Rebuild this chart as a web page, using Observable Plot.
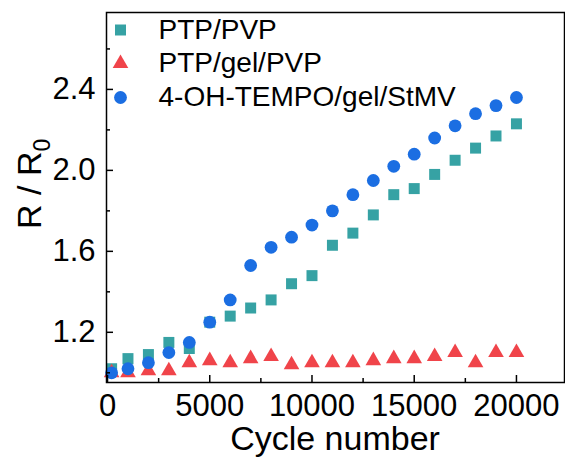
<!DOCTYPE html>
<html>
<head>
<meta charset="utf-8">
<script src="https://cdn.jsdelivr.net/npm/d3@7"></script>
<script src="https://cdn.jsdelivr.net/npm/@observablehq/plot@0.6"></script>
<style>
  html, body { margin: 0; padding: 0; background: #fff; }
  #chart { width: 565px; height: 457px; }
</style>
</head>
<body>
<div id="chart"></div>
<script>
const cycles = [200, 1000, 2000, 3000, 4000, 5000, 6000, 7000, 8000, 9000, 10000,
                11000, 12000, 13000, 14000, 15000, 16000, 17000, 18000, 19000, 20000];
const ptpPvp = [1.02, 1.07, 1.09, 1.15, 1.12, 1.25, 1.28, 1.32, 1.36, 1.44, 1.48,
                1.63, 1.69, 1.78, 1.88, 1.91, 1.98, 2.05, 2.11, 2.17, 2.23];
const ptpGelPvp = [1.00, 1.00, 1.01, 1.01, 1.05, 1.06, 1.05, 1.07, 1.08, 1.04, 1.05,
                   1.05, 1.05, 1.06, 1.07, 1.07, 1.08, 1.10, 1.05, 1.10, 1.10];
const tempo = [1.00, 1.02, 1.05, 1.10, 1.15, 1.25, 1.36, 1.53, 1.62, 1.67, 1.73,
               1.80, 1.88, 1.95, 2.02, 2.08, 2.16, 2.22, 2.28, 2.32, 2.36];

const seriesNames = ["PTP/PVP", "PTP/gel/PVP", "4-OH-TEMPO/gel/StMV"];
const seriesColors = ["#36A2A4", "#F0444A", "#1B6EE2"];
const seriesSymbols = ["square", "triangle", "circle"];
const seriesValues = [ptpPvp, ptpGelPvp, tempo];
const seriesR = [6.2, 5.8, 6.4];

const xMajor = [0, 5000, 10000, 15000, 20000];
const xMinor = [2500, 7500, 12500, 17500];
const yMajor = [1.2, 1.6, 2.0, 2.4];
const yMinor = [1.0, 1.4, 1.8, 2.2, 2.6];

const xLabel = "Cycle number";

const FONT = "'Liberation Sans', Arial, Helvetica, sans-serif";

const rows = [];
seriesNames.forEach((name, s) => {
  cycles.forEach((c, i) => rows.push({series: name, cycle: c, value: seriesValues[s][i], s}));
});

const legendRowY = [17.5, 51, 85];

const marks = [];
// data
seriesNames.forEach((name, s) => {
  marks.push(Plot.dot(rows.filter(d => d.s === s), {
    x: "cycle", y: "value", symbol: () => seriesSymbols[s],
    fill: seriesColors[s], r: seriesR[s], stroke: "none"
  }));
});
// legend
seriesNames.forEach((name, s) => {
  marks.push(Plot.dot([name], {
    frameAnchor: "top-left", dx: 14, dy: legendRowY[s],
    symbol: () => seriesSymbols[s], fill: seriesColors[s], r: seriesR[s]
  }));
  marks.push(Plot.text([name], {
    frameAnchor: "top-left", dx: 52, dy: legendRowY[s], text: d => d,
    textAnchor: "start", lineAnchor: "middle", fontSize: 28, fill: "#000"
  }));
});
// axes
marks.push(
  Plot.axisX(xMajor, {anchor: "bottom", tickSize: -7, strokeWidth: 1.5, tickFormat: () => "", label: null}),
  Plot.axisX(xMinor, {anchor: "bottom", tickSize: -4, strokeWidth: 1.5, tickFormat: () => "", label: null}),
  Plot.axisX(xMajor, {anchor: "bottom", tickSize: 0, tickPadding: 11, fontSize: 31, tickFormat: d3.format("d"), label: null}),
  Plot.axisY(yMajor, {anchor: "left", tickSize: -7, strokeWidth: 1.5, tickFormat: () => "", label: null}),
  Plot.axisY(yMinor, {anchor: "left", tickSize: -4, strokeWidth: 1.5, tickFormat: () => "", label: null}),
  Plot.axisY(yMajor, {anchor: "left", tickSize: 0, tickPadding: 11, fontSize: 31, tickFormat: d3.format(".1f"), label: null}),
  Plot.frame({stroke: "#000", strokeWidth: 1.5})
);

const svgPlot = Plot.plot({
  width: 565,
  height: 457,
  marginLeft: 106,
  marginRight: 1,
  marginTop: 12,
  marginBottom: 75,
  style: {fontFamily: FONT, color: "#000", background: "#fff", overflow: "visible"},
  x: {domain: [-50, 22350], label: null},
  y: {domain: [0.952, 2.78], label: null},
  marks
});

const svg = d3.select(svgPlot);
svg.append("text")
  .attr("x", 335).attr("y", 450)
  .attr("text-anchor", "middle")
  .attr("font-size", 34)
  .attr("font-family", FONT)
  .attr("fill", "#000")
  .text(xLabel);

const yl = svg.append("text")
  .attr("transform", "translate(41,229) rotate(-90)")
  .attr("text-anchor", "start")
  .attr("font-size", 34)
  .attr("font-family", FONT)
  .attr("fill", "#000");
yl.append("tspan").text("R / R");
yl.append("tspan").attr("dy", 9).attr("font-size", 23).text("0");

document.getElementById("chart").appendChild(svgPlot);
</script>
</body>
</html>
